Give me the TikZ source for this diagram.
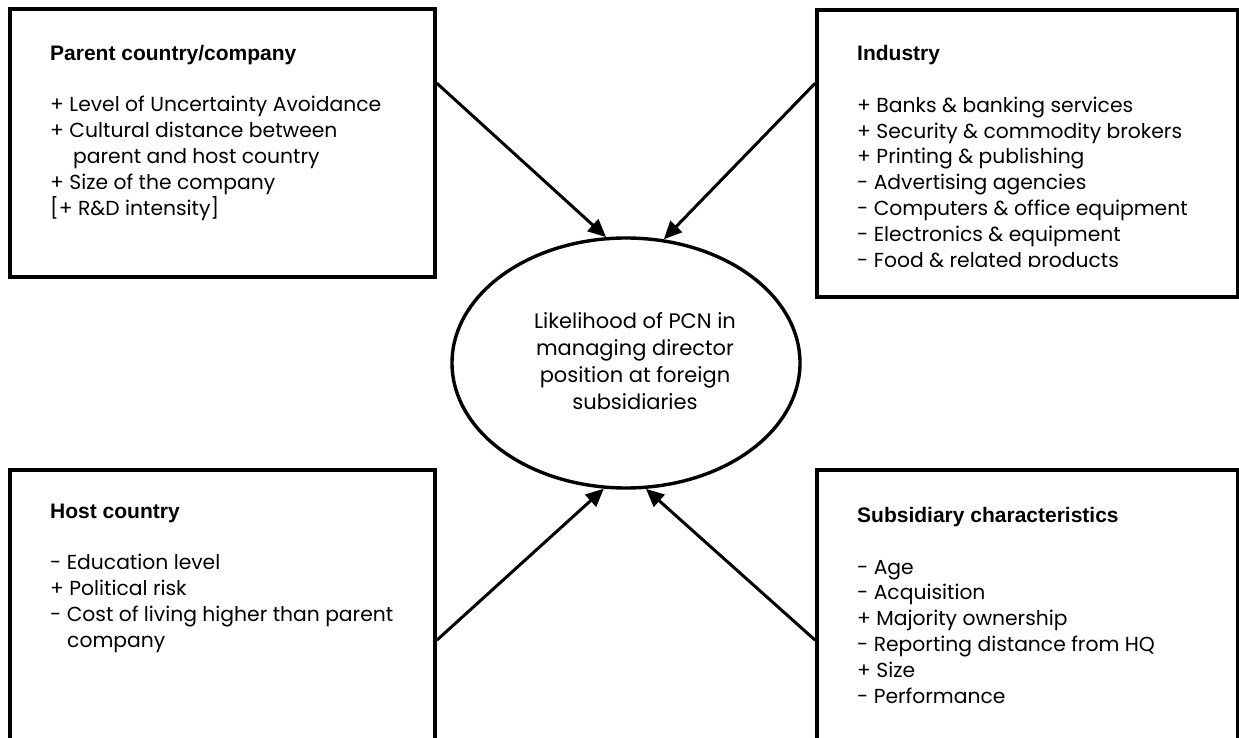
\documentclass[tikz,border=0pt]{standalone}
\usepackage{fontspec}
\setmainfont{Poppins}
\newfontfamily\titlefont{Liberation Sans}
\usetikzlibrary{shapes.geometric,arrows.meta,calc}
\begin{document}
\begin{tikzpicture}[x=1pt,y=-1pt,
  box/.style={draw, line width=3.6pt, rectangle, inner sep=0pt},
  txt/.style={anchor=base west, inner sep=0pt, align=left, font=\fontsize{20.3}{25.8}\selectfont},
  arr/.style={line width=3pt, -{Triangle[length=18pt,width=16pt]}}]
\useasboundingbox (0,0) rectangle (1239,738);
\newcommand{\hd}[1]{{\titlefont\bfseries\fontsize{21}{25.8}\selectfont #1}}
% boxes
\node[box, minimum width=425pt, minimum height=268pt] (b1) at (222.5,143) {};
\node[box, minimum width=421pt, minimum height=287pt] (b2) at (1027.5,153.5) {};
\node[box, minimum width=425pt, minimum height=290pt] (b3) at (222.5,615) {};
\node[box, minimum width=421pt, minimum height=290pt] (b4) at (1027.5,615) {};
% ellipse
\node[draw, ellipse, line width=3.4pt, minimum width=348pt, minimum height=250pt, inner sep=0pt] (ell) at (626,363) {};
\node[anchor=base, inner sep=0pt, align=center, font=\fontsize{21}{27}\selectfont] (lab) at (635,409)
  {Likelihood of PCN in\\managing director\\position at foreign\\subsidiaries};
% texts
\node[txt] (t1) at (50,215) {\hd{Parent country/company}\\[25.8pt]
+ Level of Uncertainty Avoidance\\
+ Cultural distance between\\
\hspace*{23pt}parent and host country\\
+ Size of the company\\
{[}+ R\&D intensity{]}};
\begin{scope}
\clip (817,0) rectangle (1239,266);
\node[txt] (t2) at (857,267) {\hd{Industry}\\[25.8pt]
+ Banks \& banking services\\
+ Security \& commodity brokers\\
+ Printing \& publishing\\
- Advertising agencies\\
- Computers \& office equipment\\
- Electronics \& equipment\\
- Food \& related products};
\end{scope}
\node[txt] (t3) at (50,647) {\hd{Host country}\\[25.8pt]
- Education level\\
+ Political risk\\
- Cost of living higher than parent\\
\hspace*{17pt}company};
\node[txt] (t4) at (857,703) {\hd{Subsidiary characteristics}\\[25.8pt]
- Age\\
- Acquisition\\
+ Majority ownership\\
- Reporting distance from HQ\\
+ Size\\
- Performance};
% arrows
\draw[arr] ($(b1.north east)+(0,76)$) -- (ell.99.5);
\draw[arr] ($(b2.north west)+(0,75)$) -- (ell.73.6);
\draw[arr] ($(b3.north east)+(0,172)$) -- (ell.260.5);
\draw[arr] ($(b4.north west)+(0,172)$) -- (ell.279.5);
\end{tikzpicture}
\end{document}
